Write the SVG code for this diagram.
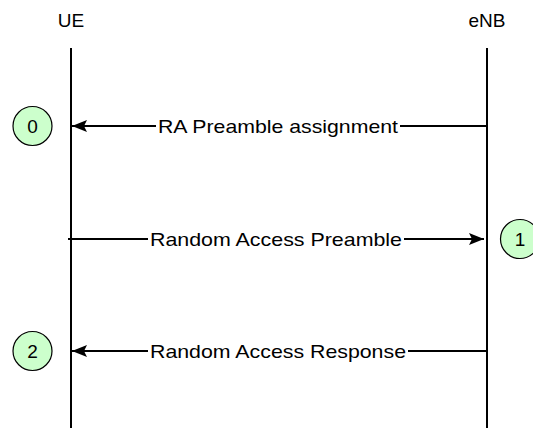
<svg xmlns="http://www.w3.org/2000/svg" width="533" height="428" viewBox="0 0 533 428">
<style>
.lbl{font-family:"Liberation Sans",Arial,sans-serif;font-size:19px;fill:#000;}
.life{stroke:#000;stroke-width:2;fill:none;}
.msg{stroke:#000;stroke-width:2;fill:none;}
.step circle{fill:#ccffcc;stroke:#000;stroke-width:1.2;}
</style>
<defs>
<marker id="ah" markerUnits="userSpaceOnUse" markerWidth="18" markerHeight="14" viewBox="0 0 18 14" refX="16" refY="7" orient="auto">
<path d="M1,1 L16,7 L1,13 L4,7 Z" fill="#000"/>
</marker>
</defs>
<rect width="533" height="428" fill="#fff"/>
<g id="UE">
<text class="lbl" x="71" y="27" text-anchor="middle">UE</text>
<line class="life" x1="71" y1="48" x2="71" y2="428"/>
</g>
<g id="eNB">
<text class="lbl" x="487" y="27" text-anchor="middle">eNB</text>
<line class="life" x1="487" y1="48" x2="487" y2="428"/>
</g>
<g id="connectors">
<line class="msg" x1="487" y1="126" x2="72" y2="126" marker-end="url(#ah)"/>
<rect x="156" y="114" width="244" height="24" fill="#fff"/>
<text class="lbl" x="158" y="133" textLength="240" lengthAdjust="spacingAndGlyphs">RA Preamble assignment</text>
<line class="msg" x1="68" y1="239" x2="484" y2="239" marker-end="url(#ah)"/>
<rect x="148" y="227" width="256" height="24" fill="#fff"/>
<text class="lbl" x="150" y="246" textLength="252" lengthAdjust="spacingAndGlyphs">Random Access Preamble</text>
<line class="msg" x1="487" y1="351" x2="72" y2="351" marker-end="url(#ah)"/>
<rect x="148" y="339" width="260" height="24" fill="#fff"/>
<text class="lbl" x="150" y="358" textLength="256" lengthAdjust="spacingAndGlyphs">Random Access Response</text>
</g>
<g id="step0" class="step">
<circle cx="32.5" cy="126" r="19.5"/>
<text class="lbl" x="32.5" y="133" text-anchor="middle">0</text>
</g>
<g id="step1" class="step">
<circle cx="520" cy="239" r="19.5"/>
<text class="lbl" x="520" y="246" text-anchor="middle">1</text>
</g>
<g id="step2" class="step">
<circle cx="32.5" cy="351" r="19.5"/>
<text class="lbl" x="32.5" y="358" text-anchor="middle">2</text>
</g>
</svg>
